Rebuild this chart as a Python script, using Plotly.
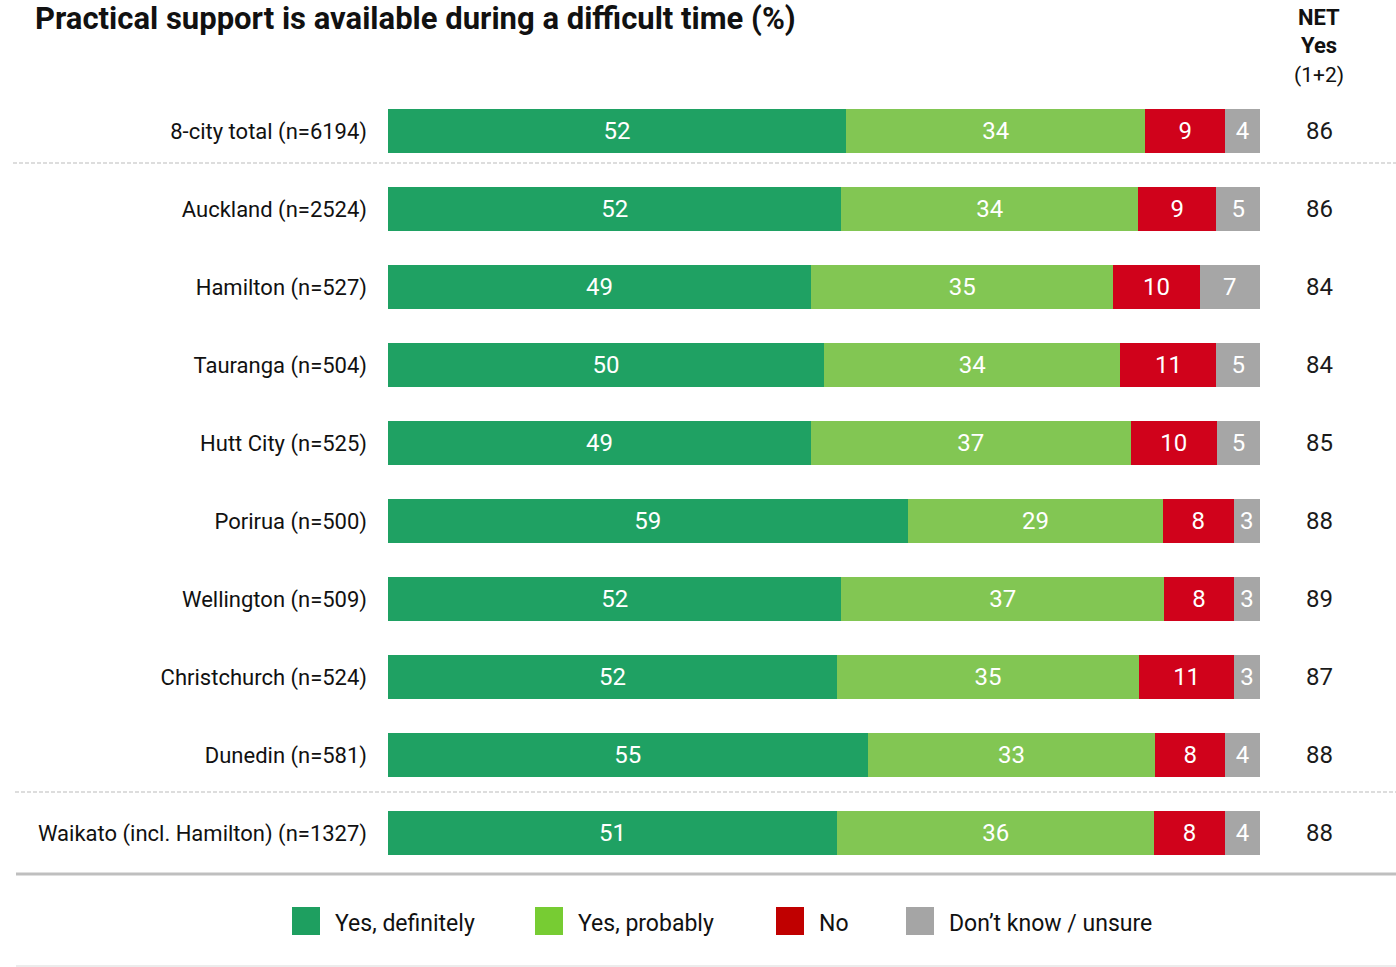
import plotly.graph_objects as go

categories = ["8-city total (n=6194)", "Auckland (n=2524)", "Hamilton (n=527)", "Tauranga (n=504)",
              "Hutt City (n=525)", "Porirua (n=500)", "Wellington (n=509)", "Christchurch (n=524)",
              "Dunedin (n=581)", "Waikato (incl. Hamilton) (n=1327)"]
yes_def = [52, 52, 49, 50, 49, 59, 52, 52, 55, 51]
yes_prob = [34, 34, 35, 34, 37, 29, 37, 35, 33, 36]
no_vals = [9, 9, 10, 11, 10, 8, 8, 11, 8, 8]
dk_vals = [4, 5, 7, 5, 5, 3, 3, 3, 4, 4]
net_yes = [86, 86, 84, 84, 85, 88, 89, 87, 88, 88]

series_names = ["Yes, definitely", "Yes, probably", "No", "Don\u2019t know / unsure"]
series_vals = [yes_def, yes_prob, no_vals, dk_vals]
bar_colors = ["#1FA163", "#82C653", "#D0021B", "#A6A6A6"]
legend_colors = ["#1E9F60", "#77CC33", "#C00000", "#A5A5A5"]

FONT = "Roboto"
fig = go.Figure()
for name, vals, col in zip(series_names, series_vals, bar_colors):
    fig.add_trace(go.Bar(
        y=categories, x=vals, name=name, orientation="h",
        marker=dict(color=col, line=dict(width=0)),
        text=vals, texttemplate="%{text}", textposition="inside",
        insidetextanchor="middle", constraintext="none",
        textfont=dict(color="white", size=24, family=FONT),
        width=0.564, showlegend=False, hoverinfo="skip",
    ))

W, H = 1396, 967
L, R, T, B = 388, 136, 92, 95
pw, ph = W - L - R, H - T - B

def px(x):
    return (x - L) / pw

def py(y):
    return (H - B - y) / ph

annotations = []
for cat, n in zip(categories, net_yes):
    annotations.append(dict(x=px(1319), xref="paper", y=cat, yref="y", text=str(n),
                            showarrow=False, font=dict(size=24, color="#1a1a1a", family=FONT),
                            xanchor="center", yanchor="middle"))
annotations += [
    dict(x=px(33), xref="paper", y=py(-2), yref="paper", text="<b>Practical support is available during a difficult time (%)</b>",
         showarrow=False, xanchor="left", yanchor="top", font=dict(size=31, color="#111", family=FONT)),
    dict(x=px(1319), xref="paper", y=py(18), yref="paper", text="<b>NET</b>", showarrow=False,
         xanchor="center", yanchor="middle", font=dict(size=22, color="#111", family=FONT)),
    dict(x=px(1319), xref="paper", y=py(46), yref="paper", text="<b>Yes</b>", showarrow=False,
         xanchor="center", yanchor="middle", font=dict(size=22, color="#111", family=FONT)),
    dict(x=px(1319), xref="paper", y=py(75), yref="paper", text="(1+2)", showarrow=False,
         xanchor="center", yanchor="middle", font=dict(size=21, color="#111", family=FONT)),
]

shapes = [
    dict(type="line", xref="paper", yref="paper", x0=px(13), x1=px(1396), y0=py(163), y1=py(163),
         line=dict(color="#BBBBBB", width=1.2, dash="4px,2px")),
    dict(type="line", xref="paper", yref="paper", x0=px(15), x1=px(1396), y0=py(792), y1=py(792),
         line=dict(color="#BBBBBB", width=1.2, dash="4px,2px")),
    dict(type="line", xref="paper", yref="paper", x0=px(16), x1=px(1396), y0=py(874), y1=py(874),
         line=dict(color="#BFBFBF", width=3)),
    dict(type="line", xref="paper", yref="paper", x0=px(16), x1=px(1396), y0=py(966), y1=py(966),
         line=dict(color="#D9D9D9", width=1)),
]

leg_x = [292, 535, 776, 906]
for lx, col, name in zip(leg_x, legend_colors, series_names):
    shapes.append(dict(type="rect", xref="paper", yref="paper", x0=px(lx), x1=px(lx + 28),
                       y0=py(935), y1=py(907), fillcolor=col, line=dict(width=0)))
    annotations.append(dict(x=px(lx + 41), xref="paper", y=py(923), yref="paper", text=name,
                            showarrow=False, xanchor="left", yanchor="middle",
                            font=dict(size=23, color="#111", family=FONT)))

fig.update_layout(
    barmode="stack", barnorm="percent",
    width=W, height=H,
    margin=dict(l=L, r=R, t=T, b=B, autoexpand=False),
    paper_bgcolor="white", plot_bgcolor="white",
    xaxis=dict(range=[0, 100], visible=False, fixedrange=True),
    yaxis=dict(autorange="reversed", showgrid=False, showline=False, ticks="",
               tickfont=dict(size=22, color="#111", family=FONT), ticklabelstandoff=20),
    annotations=annotations, shapes=shapes,
    showlegend=False,
)
fig.write_html("out.html", config={"displayModeBar": False},
               post_script="document.body.style.margin='0';document.body.style.overflow='hidden';")
